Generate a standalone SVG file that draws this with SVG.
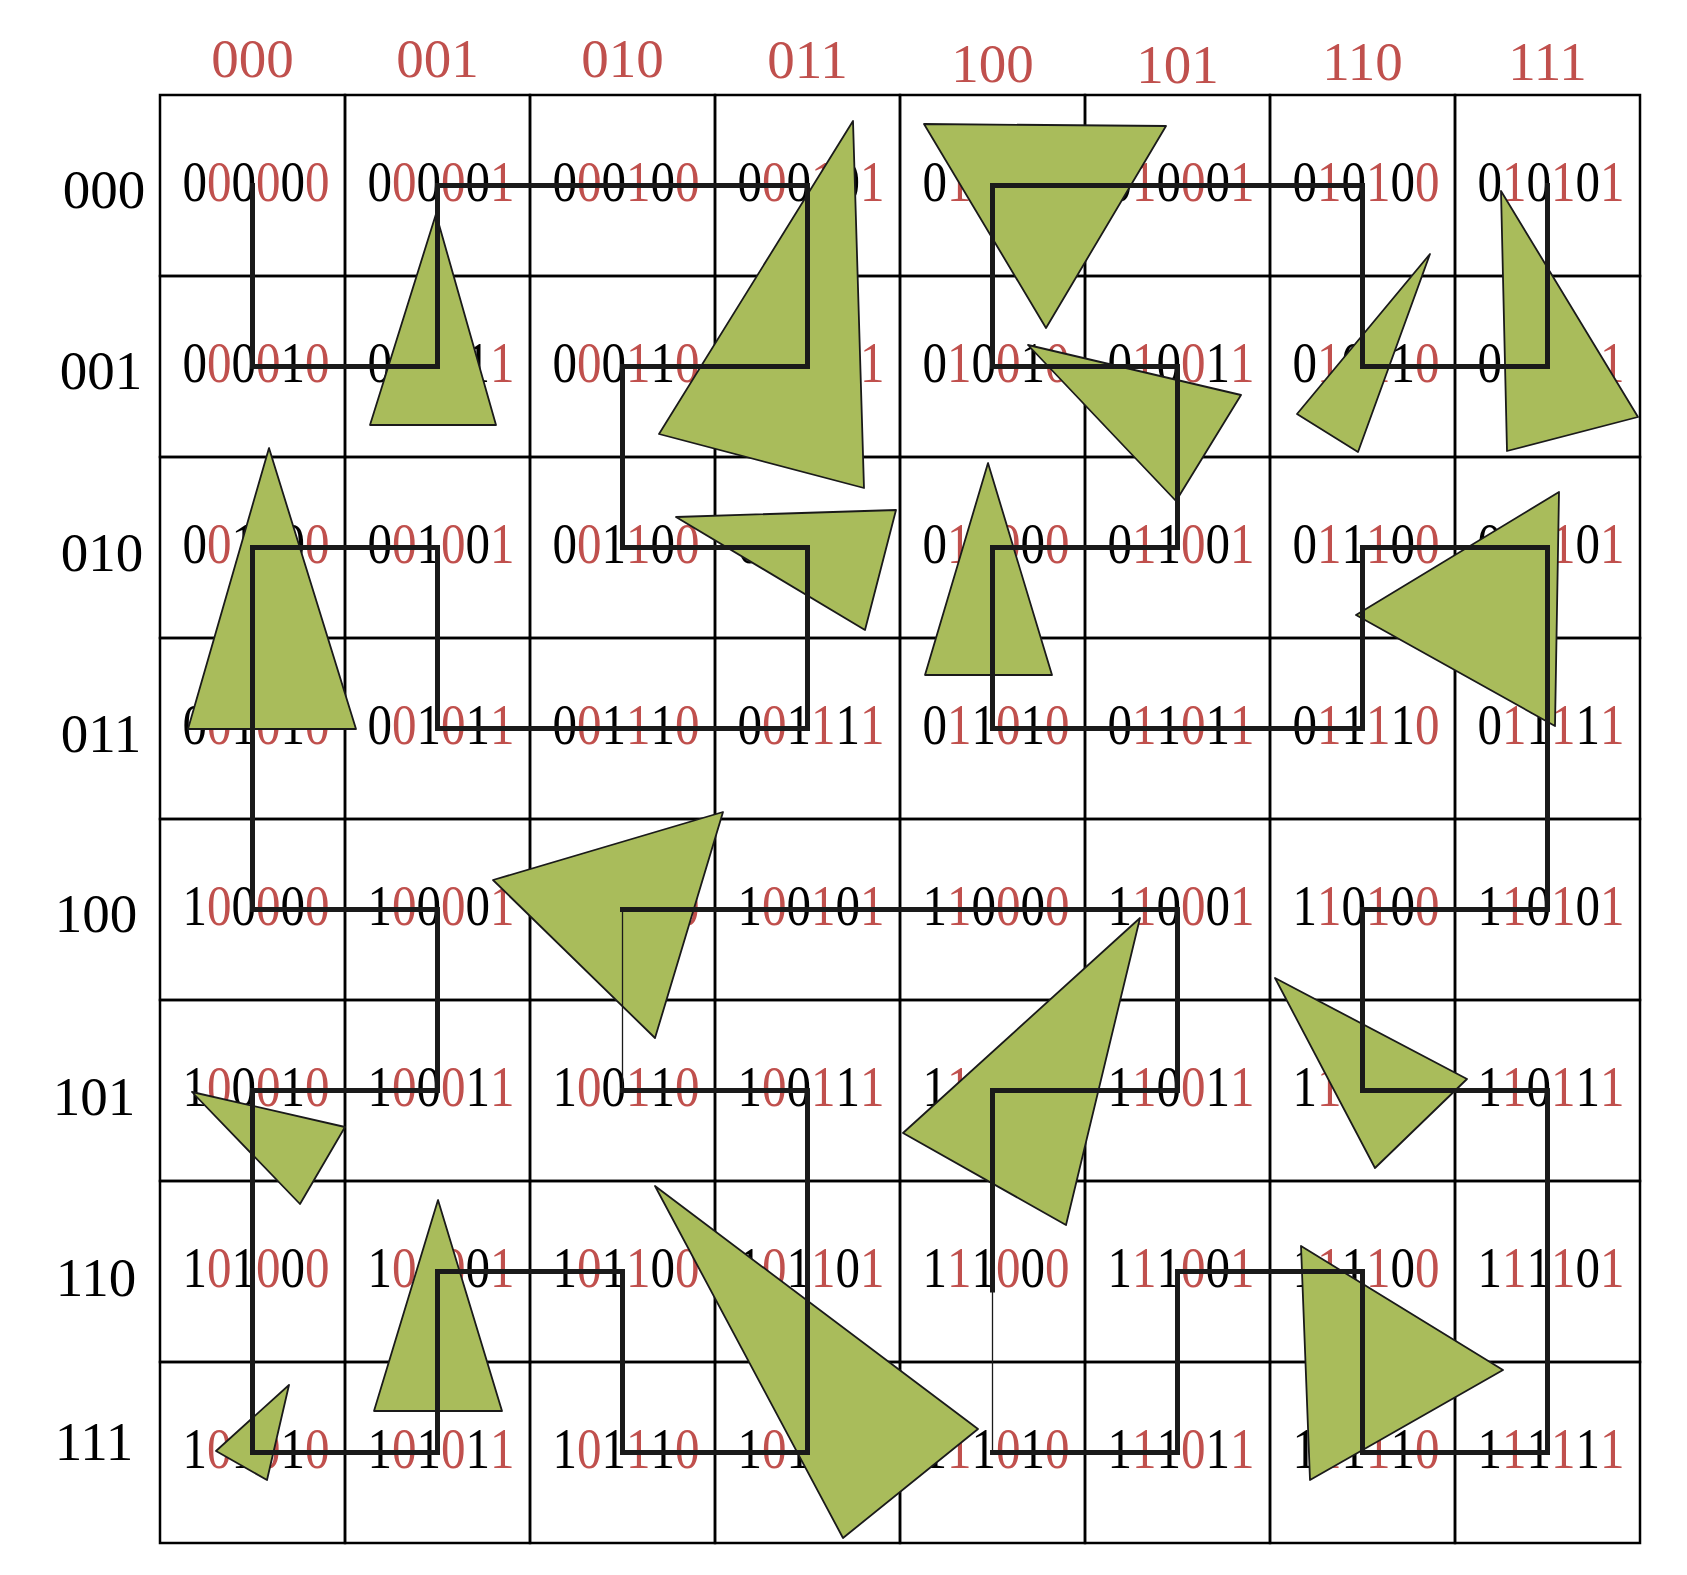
<svg xmlns="http://www.w3.org/2000/svg" width="1687" height="1575" viewBox="0 0 1687 1575">
<style>
.cell rect{fill:none;stroke:#000;stroke-width:2.5}
.lb{font-family:"Liberation Serif","Times New Roman",serif;font-size:56px;fill:#000;text-anchor:middle}
.r{fill:#c0504d}
.ch{font-family:"Liberation Serif","Times New Roman",serif;font-size:55px;fill:#c0504d;text-anchor:middle}
.rh{font-family:"Liberation Serif","Times New Roman",serif;font-size:55px;fill:#000;text-anchor:middle}
.tri{fill:#a9bc5b;stroke:#1a1a1a;stroke-width:1.8;stroke-linejoin:round}
.thick{fill:none;stroke:#1a1a1a;stroke-width:5;stroke-linejoin:miter;stroke-linecap:square}
.thin{fill:none;stroke:#1a1a1a;stroke-width:1.3}
</style>
<rect width="1687" height="1575" fill="#fff"/>
<g id="col-headers">
<text class="ch" x="252.5" y="77">000</text>
<text class="ch" x="437.5" y="77">001</text>
<text class="ch" x="622.5" y="77">010</text>
<text class="ch" x="807.5" y="78">011</text>
<text class="ch" x="992.5" y="82">100</text>
<text class="ch" x="1177.5" y="83">101</text>
<text class="ch" x="1362.5" y="80">110</text>
<text class="ch" x="1547.5" y="80">111</text>
</g>
<g id="row-headers">
<text class="rh" x="104" y="208">000</text>
<text class="rh" x="101" y="389">001</text>
<text class="rh" x="102" y="571">010</text>
<text class="rh" x="101" y="752">011</text>
<text class="rh" x="96" y="932">100</text>
<text class="rh" x="94" y="1115">101</text>
<text class="rh" x="96" y="1296">110</text>
<text class="rh" x="94" y="1460">111</text>
</g>
<g id="cells">
<g id="c000000" class="cell"><rect x="160" y="95" width="185" height="181"/><text class="lb" transform="translate(256,201) scale(0.875,1)">0<tspan class="r">0</tspan>0<tspan class="r">0</tspan>0<tspan class="r">0</tspan></text></g>
<g id="c000001" class="cell"><rect x="345" y="95" width="185" height="181"/><text class="lb" transform="translate(441,201) scale(0.875,1)">0<tspan class="r">0</tspan>0<tspan class="r">0</tspan>0<tspan class="r">1</tspan></text></g>
<g id="c000100" class="cell"><rect x="530" y="95" width="185" height="181"/><text class="lb" transform="translate(626,201) scale(0.875,1)">0<tspan class="r">0</tspan>0<tspan class="r">1</tspan>0<tspan class="r">0</tspan></text></g>
<g id="c000101" class="cell"><rect x="715" y="95" width="185" height="181"/><text class="lb" transform="translate(811,201) scale(0.875,1)">0<tspan class="r">0</tspan>0<tspan class="r">1</tspan>0<tspan class="r">1</tspan></text></g>
<g id="c010000" class="cell"><rect x="900" y="95" width="185" height="181"/><text class="lb" transform="translate(996,201) scale(0.875,1)">0<tspan class="r">1</tspan>0<tspan class="r">0</tspan>0<tspan class="r">0</tspan></text></g>
<g id="c010001" class="cell"><rect x="1085" y="95" width="185" height="181"/><text class="lb" transform="translate(1181,201) scale(0.875,1)">0<tspan class="r">1</tspan>0<tspan class="r">0</tspan>0<tspan class="r">1</tspan></text></g>
<g id="c010100" class="cell"><rect x="1270" y="95" width="185" height="181"/><text class="lb" transform="translate(1366,201) scale(0.875,1)">0<tspan class="r">1</tspan>0<tspan class="r">1</tspan>0<tspan class="r">0</tspan></text></g>
<g id="c010101" class="cell"><rect x="1455" y="95" width="185" height="181"/><text class="lb" transform="translate(1551,201) scale(0.875,1)">0<tspan class="r">1</tspan>0<tspan class="r">1</tspan>0<tspan class="r">1</tspan></text></g>

<g id="c000010" class="cell"><rect x="160" y="276" width="185" height="181"/><text class="lb" transform="translate(256,382) scale(0.875,1)">0<tspan class="r">0</tspan>0<tspan class="r">0</tspan>1<tspan class="r">0</tspan></text></g>
<g id="c000011" class="cell"><rect x="345" y="276" width="185" height="181"/><text class="lb" transform="translate(441,382) scale(0.875,1)">0<tspan class="r">0</tspan>0<tspan class="r">0</tspan>1<tspan class="r">1</tspan></text></g>
<g id="c000110" class="cell"><rect x="530" y="276" width="185" height="181"/><text class="lb" transform="translate(626,382) scale(0.875,1)">0<tspan class="r">0</tspan>0<tspan class="r">1</tspan>1<tspan class="r">0</tspan></text></g>
<g id="c000111" class="cell"><rect x="715" y="276" width="185" height="181"/><text class="lb" transform="translate(811,382) scale(0.875,1)">0<tspan class="r">0</tspan>0<tspan class="r">1</tspan>1<tspan class="r">1</tspan></text></g>
<g id="c010010" class="cell"><rect x="900" y="276" width="185" height="181"/><text class="lb" transform="translate(996,382) scale(0.875,1)">0<tspan class="r">1</tspan>0<tspan class="r">0</tspan>1<tspan class="r">0</tspan></text></g>
<g id="c010011" class="cell"><rect x="1085" y="276" width="185" height="181"/><text class="lb" transform="translate(1181,382) scale(0.875,1)">0<tspan class="r">1</tspan>0<tspan class="r">0</tspan>1<tspan class="r">1</tspan></text></g>
<g id="c010110" class="cell"><rect x="1270" y="276" width="185" height="181"/><text class="lb" transform="translate(1366,382) scale(0.875,1)">0<tspan class="r">1</tspan>0<tspan class="r">1</tspan>1<tspan class="r">0</tspan></text></g>
<g id="c010111" class="cell"><rect x="1455" y="276" width="185" height="181"/><text class="lb" transform="translate(1551,382) scale(0.875,1)">0<tspan class="r">1</tspan>0<tspan class="r">1</tspan>1<tspan class="r">1</tspan></text></g>

<g id="c001000" class="cell"><rect x="160" y="457" width="185" height="181"/><text class="lb" transform="translate(256,563) scale(0.875,1)">0<tspan class="r">0</tspan>1<tspan class="r">0</tspan>0<tspan class="r">0</tspan></text></g>
<g id="c001001" class="cell"><rect x="345" y="457" width="185" height="181"/><text class="lb" transform="translate(441,563) scale(0.875,1)">0<tspan class="r">0</tspan>1<tspan class="r">0</tspan>0<tspan class="r">1</tspan></text></g>
<g id="c001100" class="cell"><rect x="530" y="457" width="185" height="181"/><text class="lb" transform="translate(626,563) scale(0.875,1)">0<tspan class="r">0</tspan>1<tspan class="r">1</tspan>0<tspan class="r">0</tspan></text></g>
<g id="c001101" class="cell"><rect x="715" y="457" width="185" height="181"/><text class="lb" transform="translate(811,563) scale(0.875,1)">0<tspan class="r">0</tspan>1<tspan class="r">1</tspan>0<tspan class="r">1</tspan></text></g>
<g id="c011000" class="cell"><rect x="900" y="457" width="185" height="181"/><text class="lb" transform="translate(996,563) scale(0.875,1)">0<tspan class="r">1</tspan>1<tspan class="r">0</tspan>0<tspan class="r">0</tspan></text></g>
<g id="c011001" class="cell"><rect x="1085" y="457" width="185" height="181"/><text class="lb" transform="translate(1181,563) scale(0.875,1)">0<tspan class="r">1</tspan>1<tspan class="r">0</tspan>0<tspan class="r">1</tspan></text></g>
<g id="c011100" class="cell"><rect x="1270" y="457" width="185" height="181"/><text class="lb" transform="translate(1366,563) scale(0.875,1)">0<tspan class="r">1</tspan>1<tspan class="r">1</tspan>0<tspan class="r">0</tspan></text></g>
<g id="c011101" class="cell"><rect x="1455" y="457" width="185" height="181"/><text class="lb" transform="translate(1551,563) scale(0.875,1)">0<tspan class="r">1</tspan>1<tspan class="r">1</tspan>0<tspan class="r">1</tspan></text></g>

<g id="c001010" class="cell"><rect x="160" y="638" width="185" height="181"/><text class="lb" transform="translate(256,744) scale(0.875,1)">0<tspan class="r">0</tspan>1<tspan class="r">0</tspan>1<tspan class="r">0</tspan></text></g>
<g id="c001011" class="cell"><rect x="345" y="638" width="185" height="181"/><text class="lb" transform="translate(441,744) scale(0.875,1)">0<tspan class="r">0</tspan>1<tspan class="r">0</tspan>1<tspan class="r">1</tspan></text></g>
<g id="c001110" class="cell"><rect x="530" y="638" width="185" height="181"/><text class="lb" transform="translate(626,744) scale(0.875,1)">0<tspan class="r">0</tspan>1<tspan class="r">1</tspan>1<tspan class="r">0</tspan></text></g>
<g id="c001111" class="cell"><rect x="715" y="638" width="185" height="181"/><text class="lb" transform="translate(811,744) scale(0.875,1)">0<tspan class="r">0</tspan>1<tspan class="r">1</tspan>1<tspan class="r">1</tspan></text></g>
<g id="c011010" class="cell"><rect x="900" y="638" width="185" height="181"/><text class="lb" transform="translate(996,744) scale(0.875,1)">0<tspan class="r">1</tspan>1<tspan class="r">0</tspan>1<tspan class="r">0</tspan></text></g>
<g id="c011011" class="cell"><rect x="1085" y="638" width="185" height="181"/><text class="lb" transform="translate(1181,744) scale(0.875,1)">0<tspan class="r">1</tspan>1<tspan class="r">0</tspan>1<tspan class="r">1</tspan></text></g>
<g id="c011110" class="cell"><rect x="1270" y="638" width="185" height="181"/><text class="lb" transform="translate(1366,744) scale(0.875,1)">0<tspan class="r">1</tspan>1<tspan class="r">1</tspan>1<tspan class="r">0</tspan></text></g>
<g id="c011111" class="cell"><rect x="1455" y="638" width="185" height="181"/><text class="lb" transform="translate(1551,744) scale(0.875,1)">0<tspan class="r">1</tspan>1<tspan class="r">1</tspan>1<tspan class="r">1</tspan></text></g>

<g id="c100000" class="cell"><rect x="160" y="819" width="185" height="181"/><text class="lb" transform="translate(256,925) scale(0.875,1)">1<tspan class="r">0</tspan>0<tspan class="r">0</tspan>0<tspan class="r">0</tspan></text></g>
<g id="c100001" class="cell"><rect x="345" y="819" width="185" height="181"/><text class="lb" transform="translate(441,925) scale(0.875,1)">1<tspan class="r">0</tspan>0<tspan class="r">0</tspan>0<tspan class="r">1</tspan></text></g>
<g id="c100100" class="cell"><rect x="530" y="819" width="185" height="181"/><text class="lb" transform="translate(626,925) scale(0.875,1)">1<tspan class="r">0</tspan>0<tspan class="r">1</tspan>0<tspan class="r">0</tspan></text></g>
<g id="c100101" class="cell"><rect x="715" y="819" width="185" height="181"/><text class="lb" transform="translate(811,925) scale(0.875,1)">1<tspan class="r">0</tspan>0<tspan class="r">1</tspan>0<tspan class="r">1</tspan></text></g>
<g id="c110000" class="cell"><rect x="900" y="819" width="185" height="181"/><text class="lb" transform="translate(996,925) scale(0.875,1)">1<tspan class="r">1</tspan>0<tspan class="r">0</tspan>0<tspan class="r">0</tspan></text></g>
<g id="c110001" class="cell"><rect x="1085" y="819" width="185" height="181"/><text class="lb" transform="translate(1181,925) scale(0.875,1)">1<tspan class="r">1</tspan>0<tspan class="r">0</tspan>0<tspan class="r">1</tspan></text></g>
<g id="c110100" class="cell"><rect x="1270" y="819" width="185" height="181"/><text class="lb" transform="translate(1366,925) scale(0.875,1)">1<tspan class="r">1</tspan>0<tspan class="r">1</tspan>0<tspan class="r">0</tspan></text></g>
<g id="c110101" class="cell"><rect x="1455" y="819" width="185" height="181"/><text class="lb" transform="translate(1551,925) scale(0.875,1)">1<tspan class="r">1</tspan>0<tspan class="r">1</tspan>0<tspan class="r">1</tspan></text></g>

<g id="c100010" class="cell"><rect x="160" y="1000" width="185" height="181"/><text class="lb" transform="translate(256,1106) scale(0.875,1)">1<tspan class="r">0</tspan>0<tspan class="r">0</tspan>1<tspan class="r">0</tspan></text></g>
<g id="c100011" class="cell"><rect x="345" y="1000" width="185" height="181"/><text class="lb" transform="translate(441,1106) scale(0.875,1)">1<tspan class="r">0</tspan>0<tspan class="r">0</tspan>1<tspan class="r">1</tspan></text></g>
<g id="c100110" class="cell"><rect x="530" y="1000" width="185" height="181"/><text class="lb" transform="translate(626,1106) scale(0.875,1)">1<tspan class="r">0</tspan>0<tspan class="r">1</tspan>1<tspan class="r">0</tspan></text></g>
<g id="c100111" class="cell"><rect x="715" y="1000" width="185" height="181"/><text class="lb" transform="translate(811,1106) scale(0.875,1)">1<tspan class="r">0</tspan>0<tspan class="r">1</tspan>1<tspan class="r">1</tspan></text></g>
<g id="c110010" class="cell"><rect x="900" y="1000" width="185" height="181"/><text class="lb" transform="translate(996,1106) scale(0.875,1)">1<tspan class="r">1</tspan>0<tspan class="r">0</tspan>1<tspan class="r">0</tspan></text></g>
<g id="c110011" class="cell"><rect x="1085" y="1000" width="185" height="181"/><text class="lb" transform="translate(1181,1106) scale(0.875,1)">1<tspan class="r">1</tspan>0<tspan class="r">0</tspan>1<tspan class="r">1</tspan></text></g>
<g id="c110110" class="cell"><rect x="1270" y="1000" width="185" height="181"/><text class="lb" transform="translate(1366,1106) scale(0.875,1)">1<tspan class="r">1</tspan>0<tspan class="r">1</tspan>1<tspan class="r">0</tspan></text></g>
<g id="c110111" class="cell"><rect x="1455" y="1000" width="185" height="181"/><text class="lb" transform="translate(1551,1106) scale(0.875,1)">1<tspan class="r">1</tspan>0<tspan class="r">1</tspan>1<tspan class="r">1</tspan></text></g>

<g id="c101000" class="cell"><rect x="160" y="1181" width="185" height="181"/><text class="lb" transform="translate(256,1287) scale(0.875,1)">1<tspan class="r">0</tspan>1<tspan class="r">0</tspan>0<tspan class="r">0</tspan></text></g>
<g id="c101001" class="cell"><rect x="345" y="1181" width="185" height="181"/><text class="lb" transform="translate(441,1287) scale(0.875,1)">1<tspan class="r">0</tspan>1<tspan class="r">0</tspan>0<tspan class="r">1</tspan></text></g>
<g id="c101100" class="cell"><rect x="530" y="1181" width="185" height="181"/><text class="lb" transform="translate(626,1287) scale(0.875,1)">1<tspan class="r">0</tspan>1<tspan class="r">1</tspan>0<tspan class="r">0</tspan></text></g>
<g id="c101101" class="cell"><rect x="715" y="1181" width="185" height="181"/><text class="lb" transform="translate(811,1287) scale(0.875,1)">1<tspan class="r">0</tspan>1<tspan class="r">1</tspan>0<tspan class="r">1</tspan></text></g>
<g id="c111000" class="cell"><rect x="900" y="1181" width="185" height="181"/><text class="lb" transform="translate(996,1287) scale(0.875,1)">1<tspan class="r">1</tspan>1<tspan class="r">0</tspan>0<tspan class="r">0</tspan></text></g>
<g id="c111001" class="cell"><rect x="1085" y="1181" width="185" height="181"/><text class="lb" transform="translate(1181,1287) scale(0.875,1)">1<tspan class="r">1</tspan>1<tspan class="r">0</tspan>0<tspan class="r">1</tspan></text></g>
<g id="c111100" class="cell"><rect x="1270" y="1181" width="185" height="181"/><text class="lb" transform="translate(1366,1287) scale(0.875,1)">1<tspan class="r">1</tspan>1<tspan class="r">1</tspan>0<tspan class="r">0</tspan></text></g>
<g id="c111101" class="cell"><rect x="1455" y="1181" width="185" height="181"/><text class="lb" transform="translate(1551,1287) scale(0.875,1)">1<tspan class="r">1</tspan>1<tspan class="r">1</tspan>0<tspan class="r">1</tspan></text></g>

<g id="c101010" class="cell"><rect x="160" y="1362" width="185" height="181"/><text class="lb" transform="translate(256,1468) scale(0.875,1)">1<tspan class="r">0</tspan>1<tspan class="r">0</tspan>1<tspan class="r">0</tspan></text></g>
<g id="c101011" class="cell"><rect x="345" y="1362" width="185" height="181"/><text class="lb" transform="translate(441,1468) scale(0.875,1)">1<tspan class="r">0</tspan>1<tspan class="r">0</tspan>1<tspan class="r">1</tspan></text></g>
<g id="c101110" class="cell"><rect x="530" y="1362" width="185" height="181"/><text class="lb" transform="translate(626,1468) scale(0.875,1)">1<tspan class="r">0</tspan>1<tspan class="r">1</tspan>1<tspan class="r">0</tspan></text></g>
<g id="c101111" class="cell"><rect x="715" y="1362" width="185" height="181"/><text class="lb" transform="translate(811,1468) scale(0.875,1)">1<tspan class="r">0</tspan>1<tspan class="r">1</tspan>1<tspan class="r">1</tspan></text></g>
<g id="c111010" class="cell"><rect x="900" y="1362" width="185" height="181"/><text class="lb" transform="translate(996,1468) scale(0.875,1)">1<tspan class="r">1</tspan>1<tspan class="r">0</tspan>1<tspan class="r">0</tspan></text></g>
<g id="c111011" class="cell"><rect x="1085" y="1362" width="185" height="181"/><text class="lb" transform="translate(1181,1468) scale(0.875,1)">1<tspan class="r">1</tspan>1<tspan class="r">0</tspan>1<tspan class="r">1</tspan></text></g>
<g id="c111110" class="cell"><rect x="1270" y="1362" width="185" height="181"/><text class="lb" transform="translate(1366,1468) scale(0.875,1)">1<tspan class="r">1</tspan>1<tspan class="r">1</tspan>1<tspan class="r">0</tspan></text></g>
<g id="c111111" class="cell"><rect x="1455" y="1362" width="185" height="181"/><text class="lb" transform="translate(1551,1468) scale(0.875,1)">1<tspan class="r">1</tspan>1<tspan class="r">1</tspan>1<tspan class="r">1</tspan></text></g>
</g>
<g id="triangles">
<polygon class="tri" points="924,124 1166,126 1046,328"/>
<polygon class="tri" points="853,121 659,434 864,488"/>
<polygon class="tri" points="436,214 370,425 496,425"/>
<polygon class="tri" points="1501,191 1638,417 1507,451"/>
<polygon class="tri" points="1430,254 1297,414 1358,452"/>
<polygon class="tri" points="1028,345 1241,395 1176,501"/>
<polygon class="tri" points="269,448 188,729 356,729"/>
<polygon class="tri" points="676,517 896,510 865,630"/>
<polygon class="tri" points="988,463 925,675 1052,675"/>
<polygon class="tri" points="1559,492 1356,615 1555,726"/>
<polygon class="tri" points="723,812 493,880 655,1038"/>
<polygon class="tri" points="1140,918 903,1133 1066,1225"/>
<polygon class="tri" points="1275,978 1375,1168 1467,1079"/>
<polygon class="tri" points="192,1092 345,1127 300,1204"/>
<polygon class="tri" points="438,1200 374,1411 502,1411"/>
<polygon class="tri" points="655,1186 978,1429 843,1538"/>
<polygon class="tri" points="1301,1246 1503,1370 1310,1480"/>
<polygon class="tri" points="289,1385 216,1451 267,1480"/>
</g>
<g id="connectors">
<polyline class="thick" points="252.5,185.5 252.5,366.5 437.5,366.5 437.5,185.5 807.5,185.5 807.5,366.5 622.5,366.5 622.5,547.5 807.5,547.5 807.5,728.5 437.5,728.5 437.5,547.5 252.5,547.5 252.5,909.5 437.5,909.5 437.5,1090.5 252.5,1090.5 252.5,1452.5 437.5,1452.5 437.5,1271.5 622.5,1271.5 622.5,1452.5 807.5,1452.5 807.5,1090.5 622.5,1090.5"/>
<line class="thin" x1="622.5" y1="1090.5" x2="622.5" y2="909.5"/>
<polyline class="thick" points="622.5,909.5 1177.5,909.5 1177.5,1090.5 992.5,1090.5 992.5,1290"/>
<line class="thin" x1="992.5" y1="1290" x2="992.5" y2="1452.5"/>
<polyline class="thick" points="992.5,1452.5 1177.5,1452.5 1177.5,1271.5 1362.5,1271.5 1362.5,1452.5 1547.5,1452.5 1547.5,1090.5 1362.5,1090.5 1362.5,909.5 1547.5,909.5 1547.5,547.5 1362.5,547.5 1362.5,728.5 992.5,728.5 992.5,547.5 1177.5,547.5 1177.5,366.5 992.5,366.5 992.5,185.5 1362.5,185.5 1362.5,366.5 1547.5,366.5 1547.5,185.5"/>
</g>
</svg>
